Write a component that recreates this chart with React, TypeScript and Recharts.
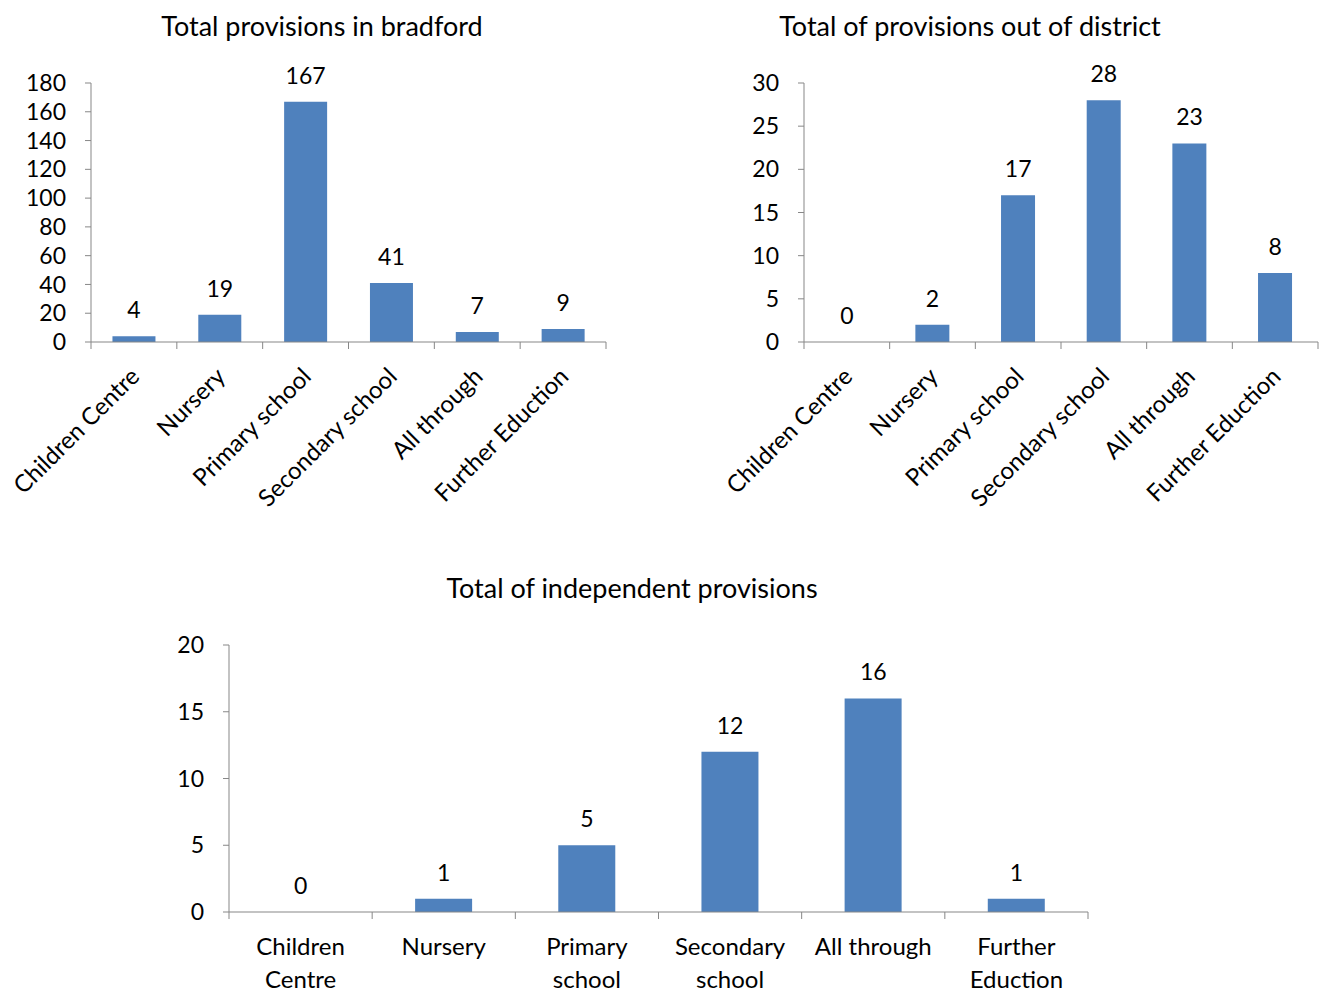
import React from "react";
import { ComposedChart, Bar, Line, XAxis, YAxis, LabelList } from "recharts";

const categories = [
  "Children Centre",
  "Nursery",
  "Primary school",
  "Secondary school",
  "All through",
  "Further Eduction",
];

// two-line labels used under the wide bottom chart
const wrappedCategories = [
  ["Children", "Centre"],
  ["Nursery"],
  ["Primary", "school"],
  ["Secondary", "school"],
  ["All through"],
  ["Further", "Eduction"],
];

const bradfordValues = [4, 19, 167, 41, 7, 9];
const outOfDistrictValues = [0, 2, 17, 28, 23, 8];
const independentValues = [0, 1, 5, 12, 16, 1];

const bradfordTicks = [0, 20, 40, 60, 80, 100, 120, 140, 160, 180];
const outOfDistrictTicks = [0, 5, 10, 15, 20, 25, 30];
const independentTicks = [0, 5, 10, 15, 20];

const FONT = "Lato, 'Open Sans', sans-serif";
const NUM_SIZE = 23;
const CAT_SIZE = 24;
const TITLE_SIZE = 27;
const BLUE = "#4F81BD";
const AXIS = "#878787";

const toRows = (values: number[]) =>
  categories.map((name, i) => ({ name, value: values[i] }));

// tick marks sit between categories (Excel style), label drawn alongside
function makeTick(kind: "rotated" | "wrapped", count: number) {
  return (props: any) => {
    const { x, y, payload, index } = props;
    const half = payload?.offset ?? 0;
    const row = categories.indexOf(payload.value);
    return (
      <g>
        <line x1={x - half} x2={x - half} y1={y} y2={y + 7} stroke={AXIS} />
        {index === count - 1 && (
          <line x1={x + half} x2={x + half} y1={y} y2={y + 7} stroke={AXIS} />
        )}
        {kind === "rotated" ? (
          <text
            x={x + 7}
            y={y + 36}
            textAnchor="end"
            transform={`rotate(-45 ${x + 7} ${y + 36})`}
            fontFamily={FONT}
            fontSize={CAT_SIZE}
            fill="#000"
          >
            {payload.value}
          </text>
        ) : (
          <text textAnchor="middle" fontFamily={FONT} fontSize={CAT_SIZE} fill="#000">
            {wrappedCategories[row].map((line, i) => (
              <tspan key={i} x={x} y={y + 43 + i * 33}>
                {line}
              </tspan>
            ))}
          </text>
        )}
      </g>
    );
  };
}

const titleStyle = (cx: number, cy: number): React.CSSProperties => ({
  position: "absolute",
  left: cx - 300,
  top: cy - 18,
  width: 600,
  textAlign: "center",
  fontFamily: FONT,
  fontSize: TITLE_SIZE,
  lineHeight: "36px",
  color: "#000",
});

interface PanelProps {
  values: number[];
  ticks: number[];
  width: number;
  height: number;
  margin: { top: number; right: number; left: number; bottom: number };
  yAxisWidth: number;
  xAxisHeight: number;
  gap: string;
  kind: "rotated" | "wrapped";
}

function Panel({ values, ticks, width, height, margin, yAxisWidth, xAxisHeight, gap, kind }: PanelProps) {
  return (
    <ComposedChart width={width} height={height} data={toRows(values)} margin={margin} barCategoryGap={gap}>
      <XAxis
        dataKey="name"
        interval={0}
        height={xAxisHeight}
        tickLine={false}
        tickSize={0}
        tickMargin={0}
        axisLine={{ stroke: AXIS }}
        tick={makeTick(kind, categories.length)}
      />
      <YAxis
        width={yAxisWidth}
        domain={[ticks[0], ticks[ticks.length - 1]]}
        ticks={ticks}
        interval={0}
        tickSize={6}
        tickMargin={19}
        axisLine={{ stroke: AXIS }}
        tickLine={{ stroke: AXIS }}
        tick={{ fill: "#000", fontFamily: FONT, fontSize: NUM_SIZE }}
      />
      <Bar dataKey="value" fill={BLUE} isAnimationActive={false} />
      {/* invisible line only carries the value labels, so zeros get one too */}
      <Line
        dataKey="value"
        stroke="none"
        dot={false}
        activeDot={false}
        isAnimationActive={false}
      >
        <LabelList
          dataKey="value"
          position="top"
          offset={18}
          fill="#000"
          fontFamily={FONT}
          fontSize={NUM_SIZE}
        />
      </Line>
    </ComposedChart>
  );
}

export default function App() {
  return (
    <div
      style={{
        position: "absolute",
        left: 0,
        top: 0,
        width: 1325,
        height: 992,
        background: "#fff",
        overflow: "hidden",
      }}
    >
      <div style={titleStyle(322, 26)}>Total provisions in bradford</div>
      <div style={titleStyle(970, 26)}>Total of provisions out of district</div>
      <div style={titleStyle(632, 588)}>Total of independent provisions</div>

      <div style={{ position: "absolute", left: 0, top: 0 }}>
        <Panel
          values={bradfordValues}
          ticks={bradfordTicks}
          width={620}
          height={520}
          margin={{ top: 83, right: 14, left: 0, bottom: 0 }}
          yAxisWidth={91}
          xAxisHeight={178}
          gap="25%"
          kind="rotated"
        />
      </div>

      <div style={{ position: "absolute", left: 700, top: 0 }}>
        <Panel
          values={outOfDistrictValues}
          ticks={outOfDistrictTicks}
          width={625}
          height={520}
          margin={{ top: 83, right: 7, left: 0, bottom: 0 }}
          yAxisWidth={104}
          xAxisHeight={178}
          gap="30%"
          kind="rotated"
        />
      </div>

      <div style={{ position: "absolute", left: 0, top: 560 }}>
        <Panel
          values={independentValues}
          ticks={independentTicks}
          width={1325}
          height={432}
          margin={{ top: 85, right: 237, left: 0, bottom: 0 }}
          yAxisWidth={229}
          xAxisHeight={80}
          gap="30%"
          kind="wrapped"
        />
      </div>
    </div>
  );
}
